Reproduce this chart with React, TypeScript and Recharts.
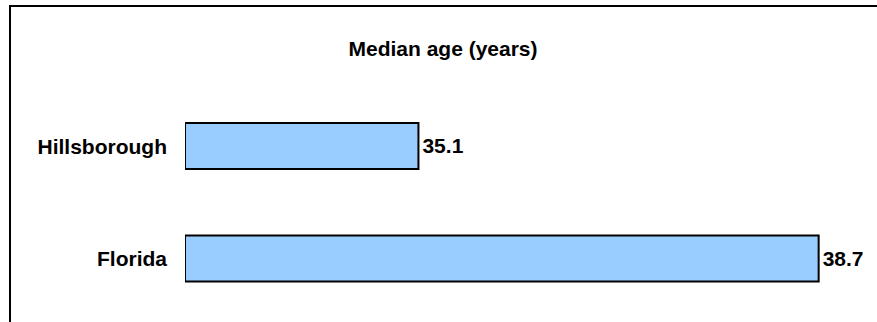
import { BarChart, Bar, XAxis, YAxis, LabelList } from 'recharts';

const regions = ['Hillsborough', 'Florida'];
const medianAge = [35.1, 38.7];

const data = regions.map((name, i) => ({ name, age: medianAge[i] }));

const font = '"Liberation Sans", Arial, sans-serif';

export default function App() {
  return (
    <div style={{ position: 'absolute', left: 0, top: 0, width: 877, height: 322, overflow: 'hidden', background: '#fff' }}>
      <svg width={877} height={322} style={{ position: 'absolute', left: 0, top: 0 }}>
        <line x1={10} y1={6} x2={877} y2={6} stroke="#000" strokeWidth={2} />
        <line x1={10} y1={5} x2={10} y2={322} stroke="#000" strokeWidth={2} />
        <text x={443} y={56} textAnchor="middle" fontFamily={font} fontWeight="bold" fontSize={21} fill="#000">
          Median age (years)
        </text>
      </svg>
      <div style={{ position: 'absolute', left: 0, top: 0 }}>
        <BarChart
          width={877}
          height={322}
          data={data}
          layout="vertical"
          margin={{ top: 90, right: 25, bottom: 7, left: 0 }}
        >
          <XAxis type="number" domain={[33, 39]} allowDataOverflow hide />
          <YAxis
            type="category"
            dataKey="name"
            width={185}
            axisLine={false}
            tickLine={false}
            tickSize={0}
            tickMargin={18}
            tick={{ fontSize: 21, fontWeight: 'bold', fill: '#000', fontFamily: font }}
          />
          <Bar dataKey="age" fill="#99ccff" stroke="#000" strokeWidth={2} barSize={46} isAnimationActive={false}>
            <LabelList
              dataKey="age"
              position="right"
              offset={4}
              style={{ fontSize: 21, fontWeight: 'bold', fill: '#000', fontFamily: font }}
            />
          </Bar>
        </BarChart>
      </div>
    </div>
  );
}
